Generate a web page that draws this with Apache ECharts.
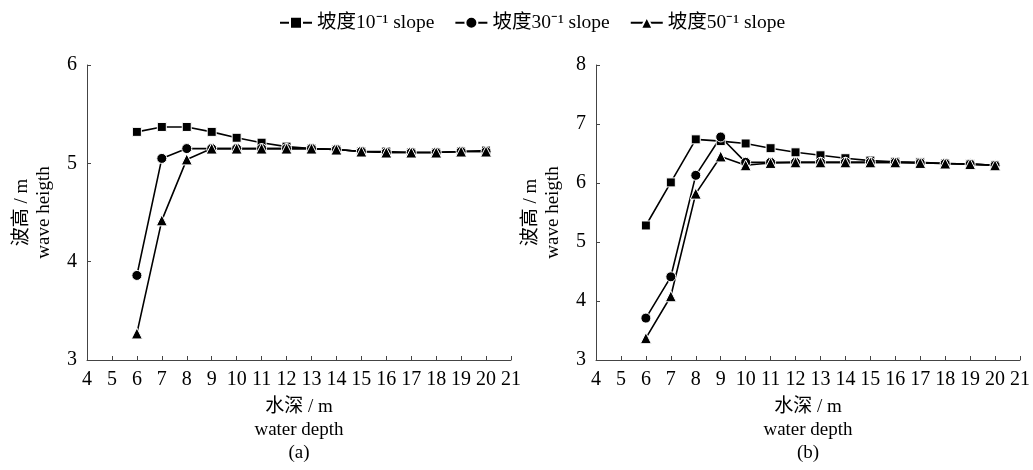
<!DOCTYPE html>
<html><head><meta charset="utf-8">
<script src="https://cdn.jsdelivr.net/npm/echarts@6/dist/echarts.min.js"></script>
<style>html,body{margin:0;padding:0;background:#fff}#c{width:1033px;height:470px}</style>
</head><body><div id="c"></div>
<script>
const depths = [6,7,8,9,10,11,12,13,14,15,16,17,18,19,20];
const seriesNames = ['坡度10⁻¹ slope','坡度30⁻¹ slope','坡度50⁻¹ slope'];
// panel (a)
const a_slope10 = [5.32,5.37,5.37,5.32,5.26,5.21,5.17,5.15,5.14,5.12,5.12,5.11,5.11,5.12,5.13];
const a_slope30 = [3.86,5.05,5.15,5.15,5.15,5.15,5.15,5.15,5.14,5.12,5.11,5.11,5.11,5.12,5.12];
const a_slope50 = [3.27,4.42,5.04,5.15,5.15,5.15,5.15,5.15,5.14,5.12,5.11,5.11,5.11,5.12,5.12];
// panel (b)
const b_slope10 = [5.28,6.01,6.74,6.71,6.67,6.59,6.52,6.47,6.42,6.38,6.36,6.35,6.33,6.32,6.30];
const b_slope30 = [3.71,4.41,6.13,6.78,6.35,6.35,6.35,6.35,6.35,6.35,6.35,6.34,6.33,6.32,6.30];
const b_slope50 = [3.37,4.08,5.82,6.45,6.30,6.34,6.35,6.35,6.35,6.35,6.35,6.34,6.33,6.32,6.30];
const panelLabels = ['(a)','(b)'];
const xName = '水深 / m\nwater depth\n';
const yName = '波高 / m\nwave heigth';

const FONT = '"Liberation Serif","Noto Sans CJK SC",serif';
const symbols = ['rect','circle','triangle'];
const symSizes = [9,10,11];
function pairs(vals){ return depths.map((d,i)=>[d, vals[i]]); }
function mkSeries(idx, vals, k){
  return {
    name: seriesNames[k], type:'line', xAxisIndex: idx, yAxisIndex: idx,
    data: pairs(vals), symbol: symbols[k], symbolSize: symSizes[k],
    lineStyle:{color:'#000', width:1.6},
    itemStyle:{color:'#000', borderColor:'#fff', borderWidth:1},
    emphasis:{disabled:true}, animation:false
  };
}
function xAx(idx, label){
  return {
    type:'value', gridIndex: idx, min:4, max:21, interval:1,
    name: xName + label, nameLocation:'middle', nameGap: 36,
    nameTextStyle:{fontFamily:FONT, fontSize:19, color:'#000', lineHeight:23},
    axisLine:{show:true, lineStyle:{color:'#444', width:1}},
    axisTick:{show:true, inside:true, length:4, lineStyle:{color:'#444'}},
    axisLabel:{fontFamily:FONT, fontSize:20, color:'#000', margin:10},
    splitLine:{show:false}
  };
}
function yAx(idx, max){
  return {
    type:'value', gridIndex: idx, min:3, max:max, interval:1,
    name: yName, nameLocation:'middle', nameRotate:90, nameGap: 32,
    nameTextStyle:{fontFamily:FONT, fontSize:19, color:'#000', lineHeight:22},
    axisLine:{show:true, lineStyle:{color:'#444', width:1}},
    axisTick:{show:true, inside:true, length:4, lineStyle:{color:'#444'}},
    axisLabel:{fontFamily:FONT, fontSize:20, color:'#000', margin:10},
    splitLine:{show:false}
  };
}
const chart = echarts.init(document.getElementById('c'));
chart.setOption({
  backgroundColor:'#fff',
  animation:false,
  legend:{
    top:8, left:274, itemWidth:32, itemHeight:15, itemGap:20,
    data: seriesNames,
    textStyle:{fontFamily:FONT, fontSize:19.5, color:'#000'}
  },
  grid:[
    {left:87, right:522, top:65, bottom:108},
    {left:596, right:12, top:65, bottom:108}
  ],
  xAxis:[xAx(0, panelLabels[0]), xAx(1, panelLabels[1])],
  yAxis:[yAx(0, 6), yAx(1, 8)],
  series:[
    mkSeries(0, a_slope10, 0), mkSeries(0, a_slope30, 1), mkSeries(0, a_slope50, 2),
    mkSeries(1, b_slope10, 0), mkSeries(1, b_slope30, 1), mkSeries(1, b_slope50, 2)
  ]
});
</script></body></html>
